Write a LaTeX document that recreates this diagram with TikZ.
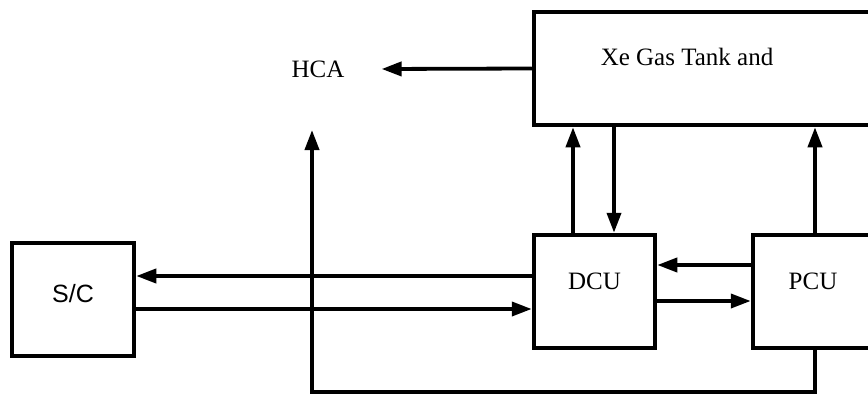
\documentclass[tikz,border=0pt]{standalone}
\usepackage{fontspec}
\setmainfont{Liberation Serif}
\newfontfamily\scfont{Liberation Sans}
\usetikzlibrary{arrows.meta}
\begin{document}
\begin{tikzpicture}[x=1pt,y=-1pt,
  box/.style={draw, line width=4.5pt, rectangle, inner sep=0pt},
  lbl/.style={font=\fontsize{25}{29}\selectfont, inner sep=0pt},
  arr/.style={line width=3.8pt, -{Triangle[length=20pt,width=14pt]}},
  wire/.style={line width=3.8pt}]
\useasboundingbox (0,0) rectangle (868,396);
\fill[white] (0,0) rectangle (868,396);
\clip (0,0) rectangle (868,396);
% boxes
\node[box, minimum width=346pt, minimum height=113pt,
      label={[lbl, xshift=-20pt, yshift=11.5pt]center:Xe Gas Tank and}] (tank) at (707,68.5) {};
\node[box, minimum width=122pt, minimum height=113pt,
      label={[lbl, font=\scfont\fontsize{25}{29}\selectfont, yshift=6pt]center:S/C}] (sc) at (73,299.5) {};
\node[box, minimum width=121pt, minimum height=113pt,
      label={[lbl, yshift=10pt]center:DCU}] (dcu) at (594.5,291.5) {};
\node[box, minimum width=127pt, minimum height=113pt,
      label={[lbl, xshift=-3.5pt, yshift=10pt]center:PCU}] (pcu) at (816.5,291.5) {};
\node[lbl] (hca) at (318,69) {HCA};
% connectors
\draw[arr] (tank.west) -- ([xshift=37pt]hca.east);
\draw[arr] (dcu.west |- 0,276) -- (sc.east |- 0,276);
\draw[arr] (sc.east |- 0,309) -- (dcu.west |- 0,309);
\draw[arr] (pcu.west |- 0,265) -- (dcu.east |- 0,265);
\draw[arr] (dcu.east |- 0,301) -- (pcu.west |- 0,301);
\draw[arr] (dcu.north -| 573,0) -- (tank.south -| 573,0);
\draw[arr] (tank.south -| 614,0) -- (dcu.north -| 614,0);
\draw[arr] (pcu.north -| 815,0) -- (tank.south -| 815,0);
\coordinate (hcain) at (312,130);
\draw[arr, line join=miter] (pcu.south -| 815,0) -- (815,392) -- (312,392) -- (hcain);
\end{tikzpicture}
\end{document}
